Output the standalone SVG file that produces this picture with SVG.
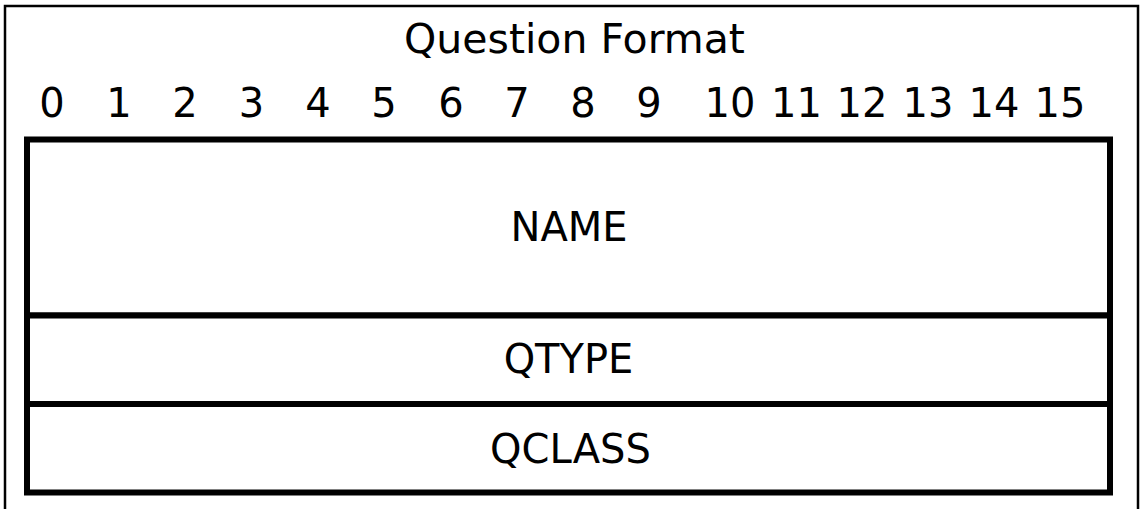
<svg xmlns="http://www.w3.org/2000/svg" width="1141" height="509" viewBox="0 0 1141 509">
<style>
text{font-family:"DejaVu Sans","Liberation Sans",sans-serif;font-size:40px;fill:#000;text-anchor:middle}
.title{font-size:41px}
.frame{fill:none;stroke:#000;stroke-width:2.5}
.box{fill:#fff;stroke:#000;stroke-width:6}
</style>
<rect width="1141" height="509" fill="#fff"/>
<path class="frame" d="M5,509 V6 H1138 V509"/>
<text class="title" x="574.5" y="53">Question Format</text>
<g id="bits">
<text x="52" y="117">0</text>
<text x="119" y="117">1</text>
<text x="185" y="117">2</text>
<text x="251.5" y="117">3</text>
<text x="318" y="117">4</text>
<text x="384" y="117">5</text>
<text x="451" y="117">6</text>
<text x="517" y="117">7</text>
<text x="583" y="117">8</text>
<text x="649" y="117">9</text>
<text x="730" y="117">10</text>
<text x="796.5" y="117">11</text>
<text x="862" y="117">12</text>
<text x="928" y="117">13</text>
<text x="994" y="117">14</text>
<text x="1060" y="117">15</text>
</g>
<g id="name"><rect class="box" x="27" y="139.5" width="1083" height="176"/><text x="569" y="241">NAME</text></g>
<g id="qtype"><rect class="box" x="27" y="315.5" width="1083" height="88.5"/><text x="568.5" y="373">QTYPE</text></g>
<g id="qclass"><rect class="box" x="27" y="404" width="1083" height="88.5"/><text x="570.5" y="463">QCLASS</text></g>
<g id="connectors"></g>
</svg>
